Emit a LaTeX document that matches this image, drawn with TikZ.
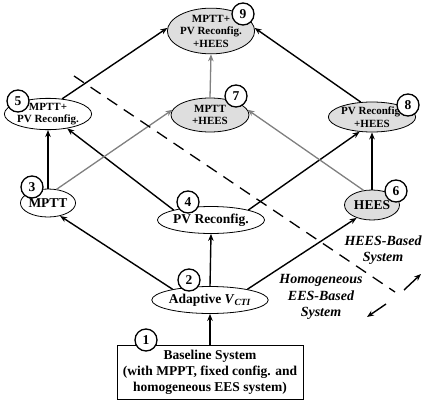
\documentclass[tikz,border=0pt]{standalone}
\usepackage{fontspec}
\setmainfont{Liberation Serif}
\usetikzlibrary{shapes.geometric,arrows.meta}
\begin{document}
\begin{tikzpicture}[x=1pt,y=-1pt,
  big/.style={font=\bfseries\fontsize{13.5}{16}\selectfont},
  small/.style={font=\bfseries\fontsize{11}{12.5}\selectfont},
  lbl/.style={font=\bfseries\itshape\fontsize{14}{16.5}\selectfont, align=center, inner sep=0pt},
  ell/.style={ellipse, draw, line width=0.8pt, inner sep=0pt, align=center},
  hees/.style={fill=black!13},
  num/.style={circle, draw, line width=1.3pt, fill=white, inner sep=0pt, minimum size=22pt, font=\bfseries\fontsize{13.5}{16}\selectfont},
  arr/.style={line width=1.4pt, -{Stealth[length=7pt,width=5.5pt]}},
  garr/.style={line width=1.3pt, draw=black!50, -{Stealth[length=7pt,width=5.5pt]}, fill=black!50},
  dline/.style={line width=1.3pt, dash pattern=on 12pt off 8pt}
]
\useasboundingbox (0,0) rectangle (422,404);

% main nodes
\node[draw, line width=0.8pt, minimum width=186pt, minimum height=54pt, big, align=center, inner sep=0pt] (n1) at (210,372)
  {Baseline System\\(with MPPT, fixed config. and\\homogeneous EES system)};
\node[ell, big, minimum width=92pt, minimum height=27pt] (n2) at (210,300) {Adaptive \textit{V}\textsubscript{\textit{CTI}}};
\node[ell, big, minimum width=55pt, minimum height=28pt] (n3) at (48,203) {MPTT};
\node[ell, big, minimum width=82pt, minimum height=27pt] (n4) at (211,220) {PV Reconfig.};
\node[ell, big, hees, minimum width=55pt, minimum height=30pt] (n6) at (372,205) {HEES};
\node[ell, small, minimum width=86pt, minimum height=28pt] (n5) at (48,114) {MPTT+\\PV Reconfig.};
\node[ell, small, hees, minimum width=78pt, minimum height=34pt] (n7) at (210,115) {MPTT\\+HEES};
\node[ell, small, hees, minimum width=74pt, minimum height=30pt] (n8) at (372,117) {PV Reconfig.\\+HEES};
\node[ell, small, hees, minimum width=80pt, minimum height=44pt] (n9) at (211,31) {MPTT+\\PV Reconfig.\\+HEES};

% connectors
\draw[arr] (n1.north) -- (n2.south);
\draw[arr] (n2.north) -- (n4.south);
\draw[arr] (n2.164) -- (n3.-47);
\draw[arr] (n2.16) -- (n6.-140);
\draw[arr] (n3.north) -- (n5.south);
\draw[arr] (n4.165) -- (n5.-37);
\draw[arr] (n4.15) -- (n8.-130);
\draw[arr] (n6.north) -- (n8.south);
\draw[garr] (n3.58) -- (n7.172);
\draw[garr] (n6.120) -- (n7.8);
\draw[garr] (n7.north) -- (n9.south);
\draw[arr] (n5.47) -- (n9.176);
\draw[arr] (n8.127) -- (n9.4);

% dividing line
\coordinate (d1) at (74,76);
\coordinate (d2) at (395,292);
\draw[dline] (d1) -- (d2);
\coordinate (u1) at (404,290);
\coordinate (u2) at (421,274);
\coordinate (w1) at (386,304);
\coordinate (w2) at (367,317);
\draw[arr] (u1) -- (u2);
\draw[arr] (w1) -- (w2);

% labels
\node[lbl] (lh) at (383,250) {HEES-Based\\System};
\node[lbl] (lo) at (321,297) {Homogeneous\\EES-Based\\System};

% number badges
\node[num] (c1) at (146,340) {1};
\node[num] (c2) at (189,280) {2};
\node[num] (c3) at (32,187) {3};
\node[num] (c4) at (188,202) {4};
\node[num] (c5) at (18,101) {5};
\node[num] (c6) at (396,191) {6};
\node[num] (c7) at (236,96) {7};
\node[num] (c8) at (408,105) {8};
\node[num] (c9) at (243,14) {9};
\end{tikzpicture}
\end{document}
